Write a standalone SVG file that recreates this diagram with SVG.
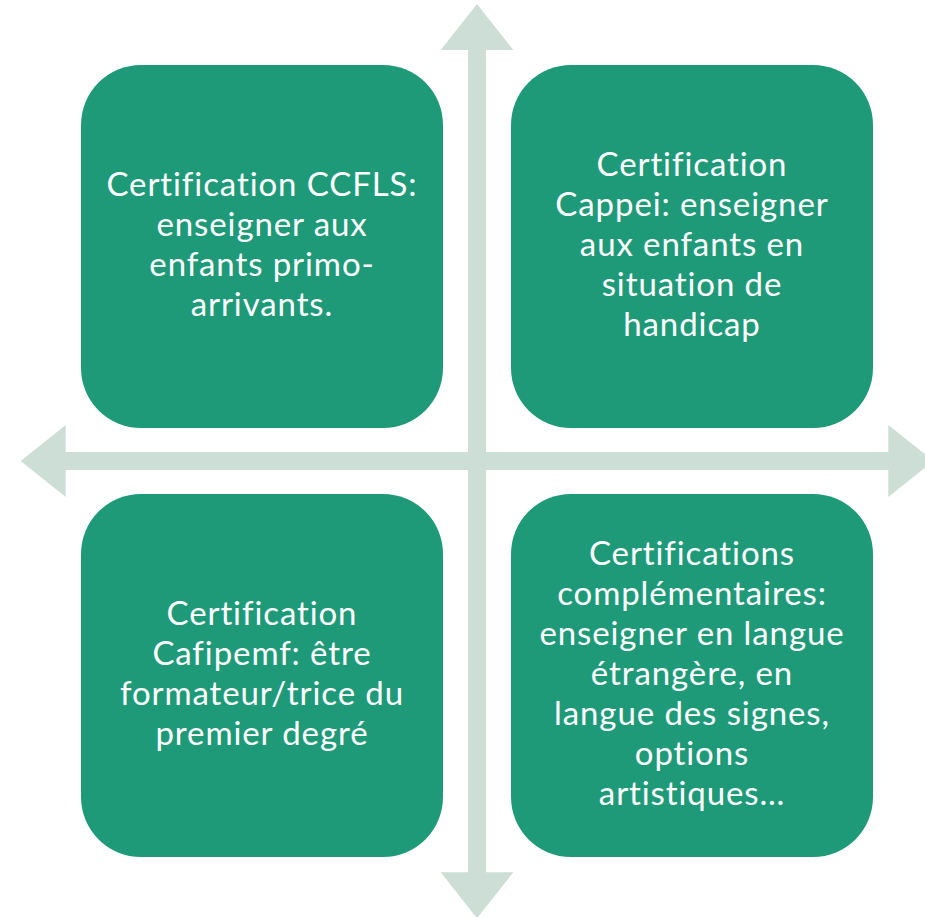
<svg xmlns="http://www.w3.org/2000/svg" width="925" height="917" viewBox="0 0 925 917">
<style>
.box{fill:#1F9A78;}
.arr{fill:#CDDED6;}
.t{font-family:Lato,"Liberation Sans",sans-serif;font-size:33px;letter-spacing:0.9px;fill:#FFFFFF;text-anchor:middle;}
</style>
<rect width="925" height="917" fill="#FFFFFF"/>
<g id="connectors">
<polygon class="arr" points="20.7,461 65.7,425 65.7,452 888.3,452 888.3,425 933.3,461 888.3,497 888.3,470 65.7,470 65.7,497"/>
<polygon class="arr" points="477,4 513.3,50 486,50 486,872.3 513.3,872.3 477,918.3 440.7,872.3 468,872.3 468,50 440.7,50"/>
</g>
<g id="node-ccfls">
<rect class="box" x="81" y="65" width="362" height="363" rx="60"/>
<text class="t" x="262" y="196">Certification CCFLS:</text>
<text class="t" x="262" y="236">enseigner aux</text>
<text class="t" x="262" y="276">enfants primo-</text>
<text class="t" x="262" y="316">arrivants.</text>
</g>
<g id="node-cappei">
<rect class="box" x="511" y="65" width="362" height="363" rx="60"/>
<text class="t" x="692" y="176">Certification</text>
<text class="t" x="692" y="216">Cappei: enseigner</text>
<text class="t" x="692" y="256">aux enfants en</text>
<text class="t" x="692" y="296">situation de</text>
<text class="t" x="692" y="336">handicap</text>
</g>
<g id="node-cafipemf">
<rect class="box" x="81" y="494" width="362" height="363" rx="60"/>
<text class="t" x="262" y="625">Certification</text>
<text class="t" x="262" y="665">Cafipemf: être</text>
<text class="t" x="262" y="705">formateur/trice du</text>
<text class="t" x="262" y="745">premier degré</text>
</g>
<g id="node-complementaires">
<rect class="box" x="511" y="494" width="362" height="363" rx="60"/>
<text class="t" x="692" y="565">Certifications</text>
<text class="t" x="692" y="605">complémentaires:</text>
<text class="t" x="692" y="645">enseigner en langue</text>
<text class="t" x="692" y="685">étrangère, en</text>
<text class="t" x="692" y="725">langue des signes,</text>
<text class="t" x="692" y="765">options</text>
<text class="t" x="692" y="805">artistiques…</text>
</g>
</svg>
